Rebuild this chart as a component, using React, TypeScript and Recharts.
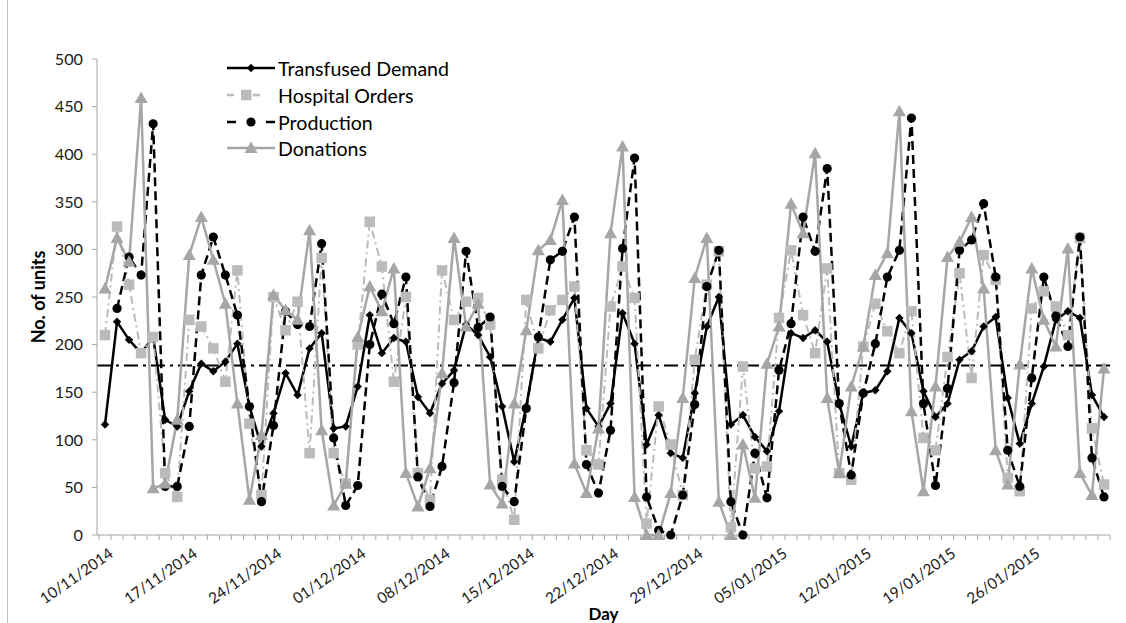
import React from 'react';
import { LineChart, Line, XAxis, YAxis, ReferenceLine } from 'recharts';

const days = [
  '10/11/2014','11/11/2014','12/11/2014','13/11/2014','14/11/2014','15/11/2014','16/11/2014','17/11/2014','18/11/2014','19/11/2014',
  '20/11/2014','21/11/2014','22/11/2014','23/11/2014','24/11/2014','25/11/2014','26/11/2014','27/11/2014','28/11/2014','29/11/2014',
  '30/11/2014','01/12/2014','02/12/2014','03/12/2014','04/12/2014','05/12/2014','06/12/2014','07/12/2014','08/12/2014','09/12/2014',
  '10/12/2014','11/12/2014','12/12/2014','13/12/2014','14/12/2014','15/12/2014','16/12/2014','17/12/2014','18/12/2014','19/12/2014',
  '20/12/2014','21/12/2014','22/12/2014','23/12/2014','24/12/2014','25/12/2014','26/12/2014','27/12/2014','28/12/2014','29/12/2014',
  '30/12/2014','31/12/2014','01/01/2015','02/01/2015','03/01/2015','04/01/2015','05/01/2015','06/01/2015','07/01/2015','08/01/2015',
  '09/01/2015','10/01/2015','11/01/2015','12/01/2015','13/01/2015','14/01/2015','15/01/2015','16/01/2015','17/01/2015','18/01/2015',
  '19/01/2015','20/01/2015','21/01/2015','22/01/2015','23/01/2015','24/01/2015','25/01/2015','26/01/2015','27/01/2015','28/01/2015',
  '29/01/2015','30/01/2015','31/01/2015','01/02/2015',
];

const tickLabels = [
  '10/11/2014','17/11/2014','24/11/2014','01/12/2014','08/12/2014','15/12/2014',
  '22/12/2014','29/12/2014','05/01/2015','12/01/2015','19/01/2015','26/01/2015',
];

const transfusedDemand = [
  116,224,205,191,208,121,114,151,180,172,
  182,201,135,93,128,170,147,196,212,112,
  114,156,231,191,207,203,145,128,159,173,
  221,210,187,135,77,135,207,203,226,249,
  133,114,138,233,201,95,126,86,81,149,
  219,250,116,126,103,88,130,212,207,215,
  203,138,93,149,152,172,228,212,151,124,
  138,184,193,219,229,144,96,138,177,226,
  235,228,147,124,
];

const hospitalOrders = [
  210,324,263,191,208,65,40,226,219,196,
  161,278,117,42,250,215,245,86,291,86,
  54,200,329,282,161,250,65,37,278,226,
  245,249,221,58,16,247,196,236,247,261,
  89,74,240,282,249,12,135,95,42,184,
  263,298,8,177,70,72,228,299,231,191,
  280,65,58,198,243,214,191,235,102,89,
  187,275,165,294,268,60,46,238,256,240,
  210,312,112,53,
];

const production = [
  null,238,292,273,432,51,51,114,273,313,
  273,231,135,35,115,235,221,219,306,102,
  31,52,200,253,222,271,61,30,72,160,
  298,218,229,51,35,133,208,289,298,334,
  74,44,110,301,396,40,5,0,42,137,
  261,299,35,0,86,39,173,222,334,298,
  385,138,63,149,201,271,299,438,138,52,
  154,299,310,348,271,89,51,165,271,230,
  198,313,81,40,
];

const donations = [
  259,312,287,459,49,54,121,294,334,289,
  243,138,37,105,252,236,226,320,110,31,
  54,208,261,235,280,65,30,70,170,312,
  219,243,53,33,138,215,299,310,352,75,
  44,112,317,408,40,0,0,44,144,270,
  312,35,0,95,39,180,219,348,317,401,
  144,65,156,198,273,296,445,130,46,156,
  292,308,334,259,89,53,179,280,226,198,
  301,65,42,175,
];

const referenceLevel = 178;
const yTicks = [0, 50, 100, 150, 200, 250, 300, 350, 400, 450, 500];

const seriesNames = ['Transfused Demand', 'Hospital Orders', 'Production', 'Donations'];

const data = days.map((d, i) => ({
  day: d,
  demand: transfusedDemand[i],
  orders: hospitalOrders[i],
  production: production[i],
  donations: donations[i],
}));

const FONT = 'Lato, "Liberation Sans", Arial, sans-serif';
const C_DEMAND = '#000000';
const C_ORDERS = '#BBBBBB';
const C_PROD = '#000000';
const C_DON = '#A6A6A6';
const AXIS = '#A6A6A6';
const HALF_STEP = 6.02;

const ok = (p: any) => p && p.cx != null && p.cy != null && p.value != null && !Number.isNaN(p.cy);

const DiamondDot = (p: any) => {
  if (!ok(p)) return <g key={`d${p.index}`} />;
  const { cx, cy } = p;
  const r = 4.2;
  return <polygon key={`d${p.index}`} points={`${cx},${cy - r} ${cx + r},${cy} ${cx},${cy + r} ${cx - r},${cy}`} fill={C_DEMAND} />;
};

const SquareDot = (p: any) => {
  if (!ok(p)) return <g key={`s${p.index}`} />;
  const { cx, cy } = p;
  const s = 10.5;
  return <rect key={`s${p.index}`} x={cx - s / 2} y={cy - s / 2} width={s} height={s} fill={C_ORDERS} />;
};

const CircleDot = (p: any) => {
  if (!ok(p)) return <g key={`c${p.index}`} />;
  return <circle key={`c${p.index}`} cx={p.cx} cy={p.cy} r={4.6} fill={C_PROD} />;
};

const TriangleDot = (p: any) => {
  if (!ok(p)) return <g key={`t${p.index}`} />;
  const { cx, cy } = p;
  return <polygon key={`t${p.index}`} points={`${cx},${cy - 6.5} ${cx + 6.5},${cy + 5} ${cx - 6.5},${cy + 5}`} fill={C_DON} />;
};

const XTick = (props: any) => {
  const { x, y, payload } = props;
  const idx = payload && payload.index != null ? payload.index : props.index;
  const isLast = idx === days.length - 1;
  const show = tickLabels.includes(payload.value);
  const tx = x + 3;
  const ty = y + 12;
  return (
    <g>
      <line x1={x - HALF_STEP} y1={y} x2={x - HALF_STEP} y2={y + 5} stroke={AXIS} strokeWidth={1} />
      {isLast && <line x1={x + HALF_STEP} y1={y} x2={x + HALF_STEP} y2={y + 5} stroke={AXIS} strokeWidth={1} />}
      {show && (
        <text
          x={tx}
          y={ty}
          dy="0.71em"
          textAnchor="end"
          transform={`rotate(-35, ${tx}, ${ty})`}
          fontSize={15.3}
          fontFamily={FONT}
          fill="#1a1a1a"
        >
          {payload.value}
        </text>
      )}
    </g>
  );
};

const YTitle = (props: any) => {
  const vb = props.viewBox || {};
  const cx = vb.x + 1;
  const cy = vb.y + vb.height / 2;
  return (
    <text x={cx} y={cy} transform={`rotate(-90, ${cx}, ${cy})`} textAnchor="middle" dominantBaseline="central"
      fontSize={18} fontWeight="bold" fontFamily={FONT} fill="#000">
      No. of units
    </text>
  );
};

const XTitle = (props: any) => {
  const vb = props.viewBox || {};
  const cx = vb.x + vb.width / 2;
  return (
    <text x={cx} y={vb.y + 85} textAnchor="middle" fontSize={17} fontWeight="bold" fontFamily={FONT} fill="#000">
      Day
    </text>
  );
};

const LegendBox = () => {
  const rowY = [18, 45, 72, 98];
  const x0 = 5, x1 = 53, xm = 29, tx = 56;
  const fs = 19.6;
  return (
    <svg width={280} height={115} style={{ position: 'absolute', left: 222, top: 50, overflow: 'visible' }}>
      <g>
        <line x1={x0} y1={rowY[0]} x2={x1} y2={rowY[0]} stroke={C_DEMAND} strokeWidth={2.5} />
        <polygon points={`${xm},${rowY[0] - 4.2} ${xm + 4.2},${rowY[0]} ${xm},${rowY[0] + 4.2} ${xm - 4.2},${rowY[0]}`} fill={C_DEMAND} />
        <text x={tx} y={rowY[0]} dominantBaseline="central" fontSize={fs} fontFamily={FONT} fill="#000">{seriesNames[0]}</text>
      </g>
      <g>
        <line x1={x0} y1={rowY[1]} x2={x0 + 7} y2={rowY[1]} stroke={C_ORDERS} strokeWidth={2.5} />
        <rect x={xm - 10} y={rowY[1] - 5.25} width={10.5} height={10.5} fill={C_ORDERS} />
        <line x1={xm + 2} y1={rowY[1]} x2={xm + 9} y2={rowY[1]} stroke={C_ORDERS} strokeWidth={2.5} />
        <text x={tx} y={rowY[1]} dominantBaseline="central" fontSize={fs} fontFamily={FONT} fill="#000">{seriesNames[1]}</text>
      </g>
      <g>
        <line x1={x0} y1={rowY[2]} x2={x0 + 9} y2={rowY[2]} stroke={C_PROD} strokeWidth={2.5} />
        <circle cx={xm} cy={rowY[2]} r={4.6} fill={C_PROD} />
        <line x1={x1 - 9} y1={rowY[2]} x2={x1} y2={rowY[2]} stroke={C_PROD} strokeWidth={2.5} />
        <text x={tx} y={rowY[2]} dominantBaseline="central" fontSize={fs} fontFamily={FONT} fill="#000">{seriesNames[2]}</text>
      </g>
      <g>
        <line x1={x0} y1={rowY[3]} x2={x1} y2={rowY[3]} stroke={C_DON} strokeWidth={2.5} />
        <polygon points={`${xm},${rowY[3] - 6.5} ${xm + 6.5},${rowY[3] + 5} ${xm - 6.5},${rowY[3] + 5}`} fill={C_DON} />
        <text x={tx} y={rowY[3]} dominantBaseline="central" fontSize={fs} fontFamily={FONT} fill="#000">{seriesNames[3]}</text>
      </g>
    </svg>
  );
};

export default function App() {
  return (
    <div style={{ position: 'fixed', left: 0, top: 0, width: 1126, height: 623, background: '#fff', overflow: 'hidden' }}>
      <div style={{ position: 'absolute', left: 7, top: 0, width: 1, height: 623, background: '#BFBFBF' }} />
      <div style={{ position: 'absolute', left: 0, top: 0 }}>
        <LineChart
          width={1126}
          height={623}
          data={data}
          margin={{ top: 59, right: 16, bottom: 13, left: 37 }}
          style={{ fontFamily: FONT }}
        >
          <XAxis
            dataKey="day"
            interval={0}
            tick={<XTick />}
            tickLine={false}
            tickSize={0}
            tickMargin={0}
            axisLine={{ stroke: AXIS, strokeWidth: 1 }}
            height={75}
            padding={{ left: 8, right: 6 }}
            label={<XTitle />}
          />
          <YAxis
            domain={[0, 500]}
            ticks={yTicks}
            interval={0}
            width={60}
            tickSize={5}
            tickMargin={9}
            axisLine={{ stroke: AXIS, strokeWidth: 1 }}
            tickLine={{ stroke: AXIS, strokeWidth: 1 }}
            tick={{ fontSize: 16.2, fill: '#1a1a1a', fontFamily: FONT }}
            label={<YTitle />}
          />
          <ReferenceLine y={referenceLevel} stroke="#000" strokeWidth={2} strokeDasharray="14 5 3 5" />
          <Line
            type="linear"
            dataKey="demand"
            name={seriesNames[0]}
            stroke={C_DEMAND}
            strokeWidth={2.5}
            dot={DiamondDot}
            activeDot={false}
            isAnimationActive={false}
          />
          <Line
            type="linear"
            dataKey="orders"
            name={seriesNames[1]}
            stroke={C_ORDERS}
            strokeWidth={2}
            strokeDasharray="8 4 2 4"
            dot={SquareDot}
            activeDot={false}
            isAnimationActive={false}
          />
          <Line
            type="linear"
            dataKey="production"
            name={seriesNames[2]}
            stroke={C_PROD}
            strokeWidth={2.5}
            strokeDasharray="9 5"
            dot={CircleDot}
            activeDot={false}
            isAnimationActive={false}
          />
          <Line
            type="linear"
            dataKey="donations"
            name={seriesNames[3]}
            stroke={C_DON}
            strokeWidth={2.5}
            dot={TriangleDot}
            activeDot={false}
            isAnimationActive={false}
          />
        </LineChart>
      </div>
      <LegendBox />
    </div>
  );
}
